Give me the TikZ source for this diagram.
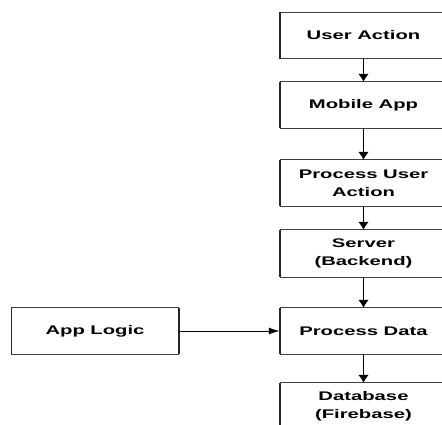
\documentclass[tikz,border=0pt]{standalone}
\usepackage{fontspec}
\usepackage{graphicx}
\newfontfamily\boxfont{Liberation Sans}
\newcommand\wt[1]{\scalebox{1.62}[1]{#1}}
\usetikzlibrary{arrows.meta}
\begin{document}
\begin{tikzpicture}[
  box/.style={fill=white, minimum width=167pt, minimum height=46pt,
    inner sep=0pt, align=center, font=\boxfont\bfseries\fontsize{12.5}{18}\selectfont},
  hedge/.style={draw=black!75, line width=1pt},
  vedge/.style={draw=black!85, line width=1.6pt},
  vconn/.style={draw=black, line width=1.6pt, -{Latex[length=8pt,width=11pt]}},
  hconn/.style={draw=black, line width=1pt, -{Latex[length=11pt,width=7pt]}}]
\useasboundingbox (0pt,0pt) rectangle (442pt,-425pt);
\fill[white] (0pt,0pt) rectangle (442pt,-425pt);
\begin{scope}
\clip (0pt,0pt) rectangle (442pt,-425pt);
\node[box] (ua) at (363.5pt,-35.5pt) {\wt{User Action}};
\node[box] (ma) at (363.5pt,-105pt) {\wt{Mobile App}};
\node[box] (pua) at (363.5pt,-183pt) {\wt{Process User}\\\wt{Action}};
\node[box, minimum height=47pt] (srv) at (363.5pt,-253.5pt) {\wt{Server}\\\wt{(Backend)}};
\node[box] (pd) at (363.5pt,-331pt) {\wt{Process Data}};
\node[box] (db) at (363.5pt,-406pt) {\wt{Database}\\\wt{(Firebase)}};
\node[box] (al) at (95pt,-331pt) {\wt{App Logic}};
\foreach \n in {ua,ma,pua,srv,pd,db,al}{
  \draw[hedge] (\n.north west) -- (\n.north east) (\n.south west) -- (\n.south east);
  \draw[vedge] (\n.north west) -- (\n.south west) (\n.north east) -- (\n.south east);
}
\draw[vconn] (ua) -- (ma);
\draw[vconn] (ma) -- (pua);
\draw[vconn] (pua) -- (srv);
\draw[vconn] (srv) -- (pd);
\draw[vconn] (pd) -- (db);
\draw[hconn] (al) -- (pd);
\end{scope}
\end{tikzpicture}
\end{document}
